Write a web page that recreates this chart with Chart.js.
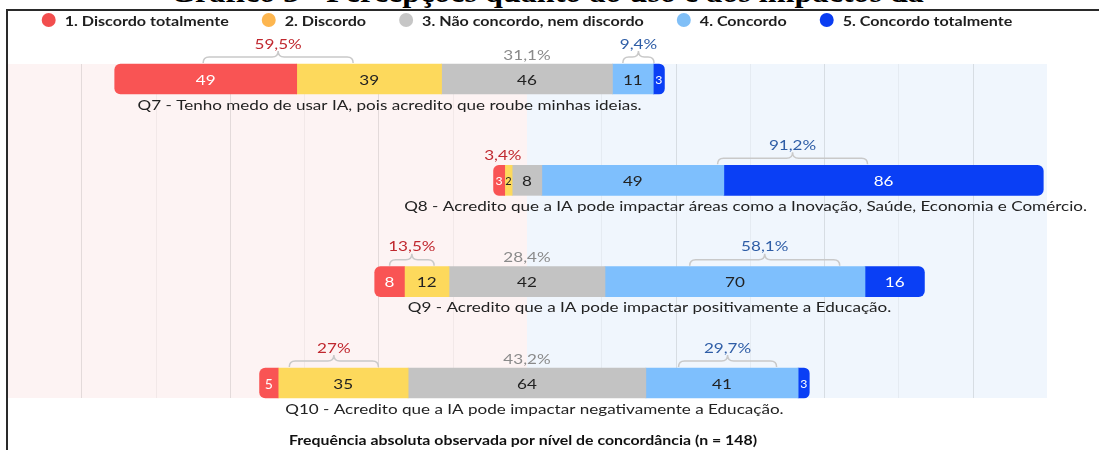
<!DOCTYPE html>
<html>
<head>
<meta charset="utf-8">
<script src="https://cdn.jsdelivr.net/npm/chart.js@4.4.0/dist/chart.umd.min.js"></script>
<style>
html, body { margin: 0; padding: 0; background: #fff; width: 1099px; height: 450px; overflow: hidden; }
#titulo { position: absolute; left: 0; top: -23px; width: 1094px; text-align: center; white-space: nowrap;
          font: bold 30px/30px "Liberation Serif", "Times New Roman", serif; color: #000;
          transform: scaleX(1.07); transform-origin: 547px 0; }
#wrap { position: absolute; left: 0; top: 0; width: 1099px; height: 450px; }
#moldura { position: absolute; left: 6px; top: 9px; width: 1093px; height: 441px;
           border-top: 2px solid #2a2a2a; border-left: 2px solid #2a2a2a; pointer-events: none; }
</style>
</head>
<body>
<div id="titulo">Gráfico 3 - Percepções quanto ao uso e aos impactos da</div>
<div id="wrap"><canvas id="grafico"></canvas></div>
<div id="moldura"></div>
<script>
'use strict';

var perguntas = [
    'Q7 - Tenho medo de usar IA, pois acredito que roube minhas ideias.',
    'Q8 - Acredito que a IA pode impactar áreas como a Inovação, Saúde, Economia e Comércio.',
    'Q9 - Acredito que a IA pode impactar positivamente a Educação.',
    'Q10 - Acredito que a IA pode impactar negativamente a Educação.'
];
var niveis = ['1. Discordo totalmente', '2. Discordo', '3. Não concordo, nem discordo', '4. Concordo', '5. Concordo totalmente'];

// frequencias por nivel (n = 148)
var discordoTotalmente = [49, 3, 8, 5];
var discordo = [39, 2, 12, 35];
var neutro = [46, 8, 42, 64];
var concordo = [11, 49, 70, 41];
var concordoTotalmente = [3, 86, 16, 3];

// percentuais mostrados acima das barras
var pctDiscordam = [59.5, 3.4, 13.5, 27];
var pctNeutros = [31.1, null, 28.4, 43.2];
var pctConcordam = [9.4, 91.2, 58.1, 29.7];

var escalaMin = -140, escalaMax = 140, passoGrade = 20;
var tituloEixo = 'Frequência absoluta observada por nível de concordância (n = 148)';

var coresBarras = ['#F95454', '#FDD95C', '#C3C3C3', '#7EBFFD', '#0A3FF5'];
var coresLegenda = ['#F24E4E', '#FDB64F', '#C6C6C6', '#80BFF7', '#0A3DF2'];
var coresTexto = ['#ffffff', '#222222', '#222222', '#222222', '#ffffff'];
var espessura = 30;
var esticar = 1.22; // o texto do original aparece mais largo

var valores = [discordoTotalmente, discordo, neutro, concordo, concordoTotalmente];

function faixas(nivel) {
    var out = [];
    for (var i = 0; i < perguntas.length; ++i) {
        var h = neutro[i] / 2;
        var d = discordo[i], dt = discordoTotalmente[i], c = concordo[i], ct = concordoTotalmente[i];
        switch (nivel) {
            case 0: out.push([-(h + d + dt), -(h + d)]); break;
            case 1: out.push([-(h + d), -h]); break;
            case 2: out.push([-h, h]); break;
            case 3: out.push([h, h + c]); break;
            case 4: out.push([h + c, h + c + ct]); break;
        }
    }
    return out;
}

var datasets = [];
for (var k = 0; k < niveis.length; ++k) {
    var raio = 0;
    if (k == 0) raio = {topLeft: 6, bottomLeft: 6, topRight: 0, bottomRight: 0};
    if (k == 4) raio = {topLeft: 0, bottomLeft: 0, topRight: 6, bottomRight: 6};
    datasets.push({
        label: niveis[k],
        data: faixas(k),
        backgroundColor: coresBarras[k],
        borderWidth: 0,
        borderSkipped: false,
        borderRadius: raio,
        barThickness: espessura,
        grouped: false,
        clip: false
    });
}

function fmtPct(v) {
    return String(v).replace('.', ',') + '%';
}

// texto esticado na horizontal, centrado em (x, y)
function texto(ctx, s, x, y, fator) {
    ctx.save();
    ctx.translate(x, y);
    ctx.scale(fator || esticar, 1);
    ctx.fillText(s, 0, 0);
    ctx.restore();
}

function chave(ctx, x0, x1, topo) {
    var cx = (x0 + x1) / 2, r = 6;
    var yb = topo - 1, ym = topo - 7, yp = topo - 13;
    ctx.beginPath();
    ctx.moveTo(x0, yb);
    ctx.quadraticCurveTo(x0, ym, x0 + r, ym);
    ctx.lineTo(cx - r, ym);
    ctx.quadraticCurveTo(cx, ym, cx, yp);
    ctx.quadraticCurveTo(cx, ym, cx + r, ym);
    ctx.lineTo(x1 - r, ym);
    ctx.quadraticCurveTo(x1, ym, x1, yb);
    ctx.stroke();
}

var fundoPlugin = {
    id: 'fundo',
    beforeDatasetsDraw: function (chart) {
        var ctx = chart.ctx, x = chart.scales.x, y = chart.scales.y;
        var topo = y.getPixelForValue(0) - espessura / 2;
        var base = y.getPixelForValue(perguntas.length - 1) + espessura / 2;
        var x0 = x.getPixelForValue(escalaMin), xc = x.getPixelForValue(0), x1 = x.getPixelForValue(escalaMax);
        ctx.save();
        ctx.fillStyle = '#FDF3F3';
        ctx.fillRect(x0, topo, xc - x0, base - topo);
        ctx.fillStyle = '#F0F6FD';
        ctx.fillRect(xc, topo, x1 - xc, base - topo);
        ctx.lineWidth = 1;
        for (var v = escalaMin + passoGrade; v < escalaMax; v += passoGrade) {
            if (v == 0) continue;
            var px = Math.round(x.getPixelForValue(v)) + 0.5;
            ctx.strokeStyle = (v % 40 == 0) ? 'rgba(0,0,0,0.10)' : 'rgba(0,0,0,0.045)';
            ctx.beginPath();
            ctx.moveTo(px, topo);
            ctx.lineTo(px, base);
            ctx.stroke();
        }
        ctx.restore();
    }
};

var rotulosPlugin = {
    id: 'rotulos',
    afterDatasetsDraw: function (chart) {
        var ctx = chart.ctx, x = chart.scales.x, y = chart.scales.y;
        ctx.save();
        ctx.textAlign = 'center';
        ctx.textBaseline = 'middle';

        // numeros dentro das barras
        for (var k = 0; k < chart.data.datasets.length; ++k) {
            var meta = chart.getDatasetMeta(k);
            for (var i = 0; i < meta.data.length; ++i) {
                var el = meta.data[i];
                var w = Math.abs(el.x - el.base);
                var fs = Math.min(14, Math.max(11, w * 1.1));
                ctx.font = fs + 'px Lato';
                ctx.fillStyle = coresTexto[k];
                texto(ctx, valores[k][i], (el.x + el.base) / 2, el.y + 1, w < 20 ? 1 : esticar);
            }
        }

        for (var i = 0; i < perguntas.length; ++i) {
            var cy = y.getPixelForValue(i);
            var topo = cy - espessura / 2;
            var h = neutro[i] / 2;
            var esq = x.getPixelForValue(-(h + discordo[i] + discordoTotalmente[i]));
            var dir = x.getPixelForValue(h + concordo[i] + concordoTotalmente[i]);

            // pergunta abaixo da barra
            ctx.font = '14px Lato';
            ctx.fillStyle = '#222';
            var meio = ctx.measureText(perguntas[i]).width * esticar / 2;
            var cx = Math.min(Math.max((esq + dir) / 2, 10 + meio), chart.width - 12 - meio);
            texto(ctx, perguntas[i], cx, cy + 26);

            // percentuais
            var grupos = [
                [esq, x.getPixelForValue(-h), pctDiscordam[i], '#C0282F'],
                [x.getPixelForValue(h), dir, pctConcordam[i], '#2E5DA6']
            ];
            for (var g = 0; g < grupos.length; ++g) {
                var a = grupos[g][0], b = grupos[g][1];
                var gc = (a + b) / 2;
                var larg = Math.min(150, (b - a) * 0.6);
                var ty = topo - 10;
                if (larg >= 30) {
                    ctx.strokeStyle = '#C9C9C9';
                    ctx.lineWidth = 1.5;
                    chave(ctx, gc - larg / 2, gc + larg / 2, topo);
                    ty = topo - 20;
                }
                ctx.fillStyle = grupos[g][3];
                texto(ctx, fmtPct(grupos[g][2]), gc, ty);
            }
            if (pctNeutros[i] != null) {
                ctx.fillStyle = '#8A8A8A';
                texto(ctx, fmtPct(pctNeutros[i]), x.getPixelForValue(0), topo - 9);
            }
        }
        ctx.restore();
    },
    afterDraw: function (chart) {
        var ctx = chart.ctx;
        var centro = chart.scales.x.getPixelForValue(0);
        ctx.save();
        ctx.textBaseline = 'middle';
        ctx.textAlign = 'center';

        // titulo do eixo, embaixo
        ctx.font = 'bold 13px Lato';
        ctx.fillStyle = '#111';
        texto(ctx, tituloEixo, centro - 4, chart.height - 9);

        // legenda no topo
        ctx.font = 'bold 14px Lato';
        var fatorLeg = 1.15, bola = 14, vaoBola = 9, vaoItem = 33;
        var larguras = [], total = 0;
        for (var k = 0; k < niveis.length; ++k) {
            larguras.push(ctx.measureText(niveis[k]).width * fatorLeg);
            total += bola + vaoBola + larguras[k];
        }
        total += vaoItem * (niveis.length - 1);
        var px = centro - total / 2, py = 20;
        for (var k = 0; k < niveis.length; ++k) {
            ctx.fillStyle = coresLegenda[k];
            ctx.beginPath();
            ctx.arc(px + bola / 2, py, bola / 2, 0, Math.PI * 2);
            ctx.fill();
            ctx.fillStyle = '#1e1e1e';
            texto(ctx, niveis[k], px + bola + vaoBola + larguras[k] / 2, py + 1, fatorLeg);
            px += bola + vaoBola + larguras[k] + vaoItem;
        }
        ctx.restore();
    }
};

var grafico = new Chart(document.getElementById('grafico').getContext('2d'), {
    type: 'bar',
    data: {
        labels: perguntas,
        datasets: datasets
    },
    options: {
        indexAxis: 'y',
        responsive: true,
        maintainAspectRatio: false,
        animation: false,
        layout: { padding: { left: 7, right: 52, top: 0, bottom: 67 } },
        scales: {
            x: {
                type: 'linear',
                position: 'top',
                min: escalaMin,
                max: escalaMax,
                ticks: { display: false },
                grid: { display: false, drawTicks: false },
                border: { display: false },
                title: { display: true, text: ' ', font: { size: 10 }, padding: { top: 0, bottom: 67 } }
            },
            y: {
                type: 'category',
                display: false,
                offset: false
            }
        },
        plugins: {
            legend: { display: false },
            tooltip: { enabled: false },
            title: { display: false }
        }
    },
    plugins: [fundoPlugin, rotulosPlugin]
});
</script>
</body>
</html>
